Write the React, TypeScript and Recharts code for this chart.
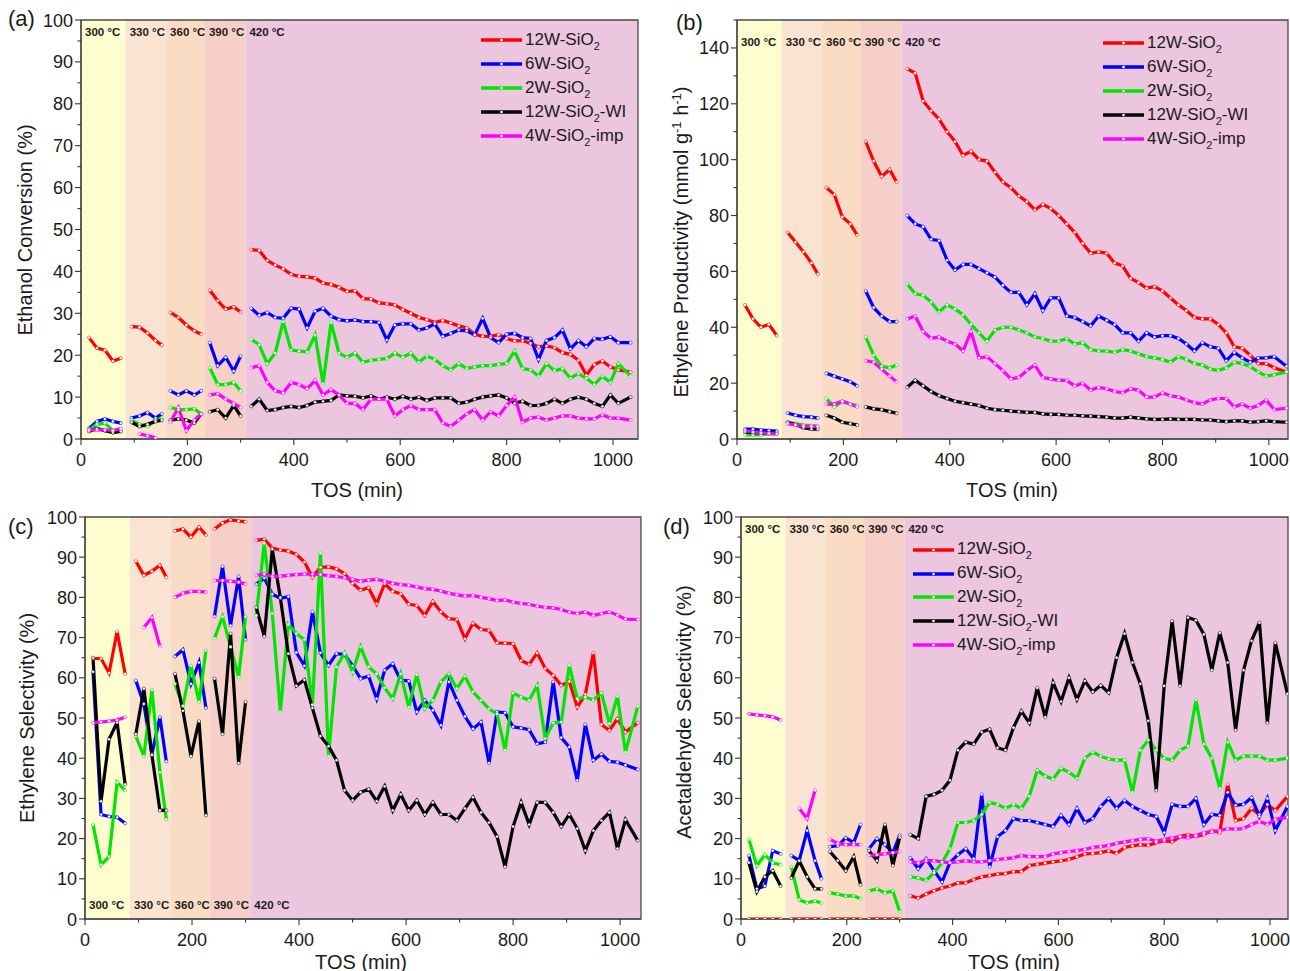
import React from 'react';
import { LineChart, Line, XAxis, YAxis, ReferenceArea } from 'recharts';

const FONT = '"Liberation Sans", Arial, Helvetica, sans-serif';

// TOS sampling times (min) for the five temperature steps
const tos300 = [15, 30, 45, 60, 75];
const tos330 = [95, 110, 125, 140, 152];
const tos360 = [168, 183, 198, 213, 226];
const tos390 = [242, 257, 272, 287, 300];
const tos420 = [320, 335, 350, 365, 380, 395, 410, 425, 440, 455, 470, 485, 500, 515, 530, 545, 560, 575, 590, 605, 620, 635, 650, 665, 680, 695, 710, 725, 740, 755, 770, 785, 800, 815, 830, 845, 860, 875, 890, 905, 920, 935, 950, 965, 980, 995, 1010, 1033];
const segmentTimes = [tos300, tos330, tos360, tos390, tos420];

const bandStarts = [0, 84, 160, 233, 309];
const bandLabels = ['300 °C', '330 °C', '360 °C', '390 °C', '420 °C'];
const bandColors = ['#fdfdcf', '#fbe3d1', '#f9dcc3', '#f6d0c8', '#ecc5de'];

const seriesNames = ['12W-SiO2', '6W-SiO2', '2W-SiO2', '12W-SiO2-WI', '4W-SiO2-imp'];
const legendTail = ['', '', '', '-WI', '-imp'];
const legendHead = ['12W-SiO', '6W-SiO', '2W-SiO', '12W-SiO', '4W-SiO'];
const seriesColors = ['#ff0000', '#0000ff', '#00e600', '#000000', '#ff00ff'];

const xTickValues = [0, 100, 200, 300, 400, 500, 600, 700, 800, 900, 1000];
const pctTicks = [0, 5, 10, 15, 20, 25, 30, 35, 40, 45, 50, 55, 60, 65, 70, 75, 80, 85, 90, 95, 100];
const prodTicks = [0, 10, 20, 30, 40, 50, 60, 70, 80, 90, 100, 110, 120, 130, 140, 150];

type Seg = (number | null)[];

// (a) Ethanol conversion (%)
const convRed: Seg[] = [
  [24.2, 21.7, 21.2, 18.6, 19.3],
  [26.8, 26.7, 25.3, 23.5, 22.4],
  [30.2, 29.0, 27.2, 25.8, 25.0],
  [35.5, 33.0, 31.0, 31.5, 30.3],
  [45.2, 45.0, 42.6, 41.5, 40.6, 39.3, 38.8, 38.7, 38.4, 37.2, 36.9, 36.2, 35.2, 35.4, 33.5, 33.4, 32.5, 32.3, 32.0, 30.9, 30.0, 29.0, 28.5, 27.8, 28.3, 27.7, 27.0, 26.5, 25.0, 24.5, 24.5, 24.9, 24.0, 23.4, 23.5, 22.8, 22.0, 22.2, 21.8, 20.6, 20.2, 18.8, 15.2, 17.8, 18.6, 17.2, 16.5, 16.0],
];
const convBlue: Seg[] = [
  [2.5, 4.2, 4.8, 4.2, 3.8],
  [5.0, 5.5, 6.3, 5.0, 6.0],
  [11.5, 10.5, 11.5, 10.5, 11.5],
  [23.0, 17.5, 19.5, 16.2, 19.8],
  [31.2, 29.5, 30.2, 29.0, 28.8, 31.2, 31.0, 26.5, 30.5, 31.2, 29.3, 28.5, 28.2, 28.4, 28.0, 28.0, 27.8, 23.6, 27.2, 27.5, 27.5, 26.0, 26.5, 27.5, 24.5, 25.2, 26.0, 25.8, 24.8, 28.8, 24.2, 23.0, 25.0, 25.2, 24.2, 24.0, 19.0, 23.5, 24.2, 26.0, 21.5, 23.5, 22.0, 24.0, 23.8, 24.4, 23.0, 23.0],
];
const convGreen: Seg[] = [
  [2.2, 3.5, 3.8, 2.0, 2.0],
  [4.5, 3.5, 3.0, 4.5, 5.0],
  [7.5, 7.0, 7.0, 7.2, 6.0],
  [17.0, 13.0, 13.0, 13.5, 11.5],
  [23.8, 22.5, 18.0, 20.5, 28.0, 21.2, 21.0, 20.8, 24.8, 13.2, 27.8, 20.5, 19.5, 20.5, 18.3, 18.8, 19.0, 19.2, 20.5, 19.5, 20.5, 18.3, 19.8, 19.0, 17.5, 16.5, 18.0, 16.8, 17.2, 17.5, 17.5, 17.8, 18.0, 21.0, 16.8, 16.5, 15.0, 18.0, 16.3, 16.8, 14.5, 15.6, 14.5, 13.0, 15.0, 13.5, 18.0, 15.0],
];
const convBlack: Seg[] = [
  [1.8, 2.5, 2.0, 1.5, 1.8],
  [4.0, 3.0, 3.5, 4.2, 4.5],
  [4.5, 4.8, 4.5, 3.8, 6.0],
  [6.5, 7.0, 5.0, 8.0, 5.5],
  [7.8, 9.5, 6.8, 7.0, 7.5, 7.8, 7.5, 8.0, 8.8, 9.0, 9.2, 10.5, 10.3, 10.2, 9.8, 10.3, 9.5, 10.0, 9.5, 10.2, 9.5, 10.0, 9.2, 9.8, 9.8, 9.8, 8.5, 8.8, 9.5, 10.0, 10.3, 10.5, 9.8, 8.5, 9.0, 8.0, 8.0, 8.5, 9.5, 8.5, 9.5, 10.0, 9.5, 8.5, 7.8, 10.5, 8.5, 10.0],
];
const convPink: Seg[] = [
  [2.2, 2.2, 2.2, 2.0, 2.5],
  [null, 1.2, 0.8, 0.3, null],
  [4.0, 7.5, 2.0, 4.5, 6.0],
  [10.5, 10.8, 9.5, 8.5, 7.5],
  [17.0, 17.5, 13.5, 11.5, 11.0, 13.5, 13.0, 12.0, 14.0, 10.5, 11.8, 10.5, 8.5, 8.5, 7.0, 9.5, 9.5, 9.5, 5.5, 7.0, 8.0, 7.0, 7.0, 7.0, 3.8, 3.0, 4.5, 6.0, 7.0, 4.5, 6.5, 5.5, 8.0, 10.0, 4.0, 5.0, 5.2, 4.5, 5.0, 5.5, 5.5, 5.0, 4.8, 4.8, 5.8, 5.0, 5.0, 4.5],
];

// (b) Ethylene productivity (mmol g-1 h-1)
const prodRed: Seg[] = [
  [48, 43, 40, 41, 37],
  [74, 70.5, 67, 63, 59],
  [90, 87.5, 79.5, 77, 73],
  [106.5, 99.5, 94, 96.5, 92],
  [132.5, 131, 121, 117.5, 114.5, 110, 106.5, 101.5, 103, 100, 99.5, 95.5, 92, 90, 87, 85, 82, 84, 82.5, 80, 77, 74, 70, 66.5, 67, 66.5, 63, 62, 57.5, 56, 54, 54.5, 53, 50.5, 48, 46, 43.5, 43, 43, 41, 38, 33, 32.5, 30, 27, 27, 25.5, 24],
];
const prodBlue: Seg[] = [
  [3.5, 3.5, 3.2, 3.0, 2.8],
  [9.3, 8.5, 8.0, 7.8, 7.5],
  [23.5, 22.5, 21.5, 20.5, 19],
  [53, 47, 44, 42, 42],
  [80, 77, 76, 71.5, 71, 64, 60.5, 62.5, 62.5, 61, 59.5, 58, 55, 52.5, 52.5, 48, 52, 46, 50.5, 50.5, 44, 43.5, 42, 40.5, 44, 42.5, 41, 38, 38, 35, 38, 36.5, 37, 37, 36, 34, 31.5, 34.5, 33, 32.5, 28, 31, 29, 27.5, 29, 29, 29.5, 26],
];
const prodGreen: Seg[] = [
  [1.5, 1.5, 1.5, 1.8, 1.8],
  [6.0, 5.5, 5.0, 4.8, 4.5],
  [14.5, 11.5, 13.5, 12.5, 12],
  [36.5, 30, 26, 25.5, 26.5],
  [55.5, 52, 51.5, 49, 45.5, 48, 46.5, 44.5, 41, 38, 35, 39, 40, 40, 39, 38, 36.5, 36, 35, 35, 36, 34, 34.5, 32, 31.5, 31.5, 31, 32, 31.5, 30.5, 29.5, 29, 28.5, 27.5, 29.5, 28.5, 27, 26.5, 25, 24.5, 25.5, 27.5, 27, 26, 24, 22.5, 23, 24],
];
const prodBlack: Seg[] = [
  [2.5, 2.3, 2.2, 2.0, 2.0],
  [6.0, 5.2, 4.0, 3.5, 3.5],
  [8.5, 7.5, 6.0, 5.5, 5.0],
  [11.5, 10.8, 10.5, 9.8, 9.2],
  [18.5, 21, 19, 17, 15.5, 14.5, 13.5, 13, 12.5, 12, 11, 10.5, 10.3, 10, 9.8, 9.5, 9.5, 9, 8.8, 8.8, 8.5, 8.5, 8.3, 8.2, 8, 7.8, 7.5, 7.5, 7.8, 7.5, 7.2, 7, 7, 7.2, 7, 7, 7, 6.8, 6.8, 6.5, 6.2, 6.5, 6.5, 6.0, 6.2, 6.5, 6.2, 6.0],
];
const prodPink: Seg[] = [
  [3.0, 2.5, 2.2, 2.0, 1.8],
  [5.5, 5.0, 4.5, 4.5, 4.5],
  [12.5, 12.5, 13.5, 12.5, 11.5],
  [28, 27.5, 25, 22.5, 20.5],
  [43, 44, 38.5, 36, 36.5, 35, 34, 31.5, 38.5, 29, 29.5, 27, 24.5, 21.5, 22, 24.5, 26.5, 22, 21.5, 21, 21, 19, 20, 17.5, 18.5, 18, 17, 16.5, 18, 17.5, 15, 15, 16.5, 15.5, 15, 14, 13, 12.5, 14, 14.5, 14.5, 11.5, 12.5, 11, 12, 14, 10.5, 11],
];

// (c) Ethylene selectivity (%)
const selRed: Seg[] = [
  [64.8, 64.8, 61.2, 71.5, 61.0],
  [89, 85.5, 86.5, 88, 85],
  [96.5, 97, 95, 97.5, 95.5],
  [97, 98.5, 99.3, 99, 98.8],
  [94.2, 94.5, 92.3, 91.8, 91.5, 90.7, 88.8, 85.0, 87.5, 87.6, 87.1, 85.9, 83.5, 81.8, 82.4, 78.4, 83.4, 81.5, 80.9, 78.3, 78.0, 75.5, 79.0, 76.4, 74.7, 74.5, 69.7, 73.6, 72.0, 71.8, 68.7, 68.6, 68.5, 64.3, 63.3, 66.2, 62.3, 60.6, 58.1, 59.1, 52.7, 55.9, 66.2, 48.4, 46.9, 49.8, 46.5, 48.8],
];
const selBlue: Seg[] = [
  [61.5, 26.0, 25.5, 25.3, 23.8],
  [59.3, 53.5, 41, 50.2, 39.2],
  [65.3, 67.0, 58.5, 63.8, 52.5],
  [75.3, 87.7, 73.0, 85.2, 69.5],
  [83.3, 84.8, 80.8, 79.8, 80.2, 66.3, 63.0, 76.4, 66.2, 63.1, 66.0, 65.8, 63.0, 59.8, 60.4, 54.8, 61.9, 63.5, 59.4, 59.2, 51.5, 54.4, 51.9, 48.2, 59.0, 54.4, 50.4, 47.3, 49.0, 38.8, 51.5, 51.3, 47.8, 47.5, 47.1, 43.6, 44.0, 59.0, 45.1, 42.8, 34.5, 48.4, 39.5, 41.0, 39.2, 39.0, 38.3, 37.2],
];
const selGreen: Seg[] = [
  [23.5, 13.5, 15.5, 34.0, 32.0],
  [45.5, 40.5, 57.0, 36.5, 24.8],
  [58.5, 53.0, 63.0, 54.0, 66.8],
  [69.8, 75.2, 67.7, 60.2, 75.2],
  [75.5, 93.5, 76.0, 51.5, 73.3, 71.0, 69.5, 53.3, 91.0, 40.5, 62.7, 66.2, 61.4, 67.7, 62.7, 61.0, 57.5, 54.8, 61.0, 52.7, 60.8, 52.3, 54.4, 59.0, 61.0, 57.3, 60.4, 56.5, 54.4, 52.3, 51.0, 42.0, 56.2, 55.2, 54.4, 58.1, 44.9, 48.8, 49.0, 63.1, 54.8, 55.2, 54.5, 56.2, 48.6, 55.4, 41.5, 52.9],
];
const selBlack: Seg[] = [
  [65.0, 29.3, 44.7, 48.9, 33.5],
  [46.0, 57.3, 40.8, 27.0, 27.0],
  [61.0, 51.8, 40.5, 49.2, 25.8],
  [59.8, 46.0, 71.0, 38.8, 54.0],
  [77.5, 70.3, 92.0, 80.0, 66.0, 58.0, 59.5, 52.5, 45.5, 43.0, 39.5, 32.0, 29.5, 31.5, 32.3, 29.3, 33.0, 27.0, 31.0, 27.0, 29.5, 26.0, 29.0, 26.0, 26.0, 24.5, 27.5, 30.3, 26.5, 24.0, 20.5, 13.0, 23.0, 29.0, 23.5, 29.0, 29.0, 26.5, 23.0, 26.0, 22.5, 17.0, 22.0, 24.5, 26.5, 17.5, 24.7, 19.5],
];
const selPink: Seg[] = [
  [48.8, 49.0, 49.2, 49.5, 50.2],
  [null, 72.5, 75.0, 67.8, null],
  [80.0, 81.0, 81.5, 81.5, 81.3],
  [84.2, 84.2, 84.0, 83.8, 83.3],
  [85.5, 85.8, 85.2, 85.3, 85.5, 85.7, 85.8, 85.8, 85.7, 85.4, 85.2, 84.9, 84.5, 84.0, 84.3, 84.5, 84.0, 83.5, 83.2, 83.0, 82.6, 82.2, 82.0, 81.6, 81.0, 80.7, 80.3, 80.5, 80.0, 79.7, 79.2, 79.4, 78.8, 78.5, 78.3, 77.8, 77.5, 77.4, 77.0, 76.3, 76.0, 76.4, 75.5, 76.0, 76.4, 75.6, 74.6, 74.5],
];

// (d) Acetaldehyde selectivity (%)
const acetRed: Seg[] = [
  [0, 0, 0, 0, 0],
  [0, 0, 0, 0, 0],
  [0, 0, 0, 0, 0],
  [0, 0, 0, 0, 0],
  [5.8, 5.2, 6.2, 7.0, 7.7, 8.2, 9.0, 9.0, 9.8, 10.5, 10.8, 11.2, 11.3, 11.8, 11.8, 13.3, 13.6, 13.9, 14.2, 14.5, 14.8, 15.5, 16.2, 16.3, 16.5, 17.0, 16.3, 17.8, 18.2, 18.5, 18.3, 19.0, 19.5, 19.2, 20.5, 21.0, 20.5, 21.0, 22.0, 21.5, 33.5, 24.5, 25.0, 27.5, 26.0, 28.5, 27.0, 30.5],
];
const acetBlue: Seg[] = [
  [15.8, 7.5, 8.2, 17.0, 16.2],
  [15.8, 14.5, 22.0, 14.5, 10.0],
  [18.0, 18.2, 20.2, 19.0, 23.5],
  [17.5, 20.0, 18.5, 16.5, 20.8],
  [15.2, 12.5, 15.0, 12.0, 9.2, 14.0, 16.0, 17.5, 15.0, 31.0, 13.0, 20.5, 22.0, 25.0, 24.5, 24.5, 24.0, 23.5, 23.0, 25.8, 23.5, 27.5, 24.0, 25.0, 28.0, 30.0, 27.5, 29.5, 28.0, 27.0, 26.0, 25.5, 21.5, 28.5, 28.0, 28.0, 30.0, 23.5, 26.0, 25.8, 31.5, 28.3, 28.5, 30.2, 25.5, 30.0, 22.0, 28.0],
];
const acetGreen: Seg[] = [
  [19.8, 13.2, 16.0, 14.0, 13.5],
  [13.0, 4.8, 4.0, 4.5, 4.0],
  [6.5, 6.2, 5.7, 5.8, 5.0],
  [7.0, 7.5, 6.5, 7.0, 1.8],
  [10.5, 10.2, 9.6, 11.5, 14.0, 17.5, 24.0, 24.0, 24.5, 26.0, 29.0, 28.5, 27.5, 28.5, 27.5, 30.5, 37.0, 35.5, 34.8, 37.5, 36.5, 35.0, 40.0, 41.5, 40.5, 39.8, 39.5, 39.5, 31.5, 42.0, 44.5, 42.0, 40.0, 39.5, 42.0, 43.0, 54.5, 43.5, 40.0, 32.5, 44.0, 39.5, 40.5, 40.5, 40.5, 39.5, 39.5, 40.0],
];
const acetBlack: Seg[] = [
  [14.0, 6.8, 10.5, 12.0, 8.2],
  [10.2, 14.5, 10.5, 7.5, 7.5],
  [16.8, 14.5, 12.0, 15.5, 8.5],
  [17.0, 14.5, 23.5, 13.3, 20.3],
  [21.0, 20.0, 30.5, 31.0, 32.0, 34.5, 42.0, 44.0, 43.5, 46.5, 47.2, 42.6, 42.0, 47.6, 51.7, 48.8, 57.5, 50.2, 58.8, 54.1, 60.0, 54.6, 59.2, 56.5, 58.1, 56.3, 65.0, 71.0, 63.8, 58.5, 49.3, 32.0, 58.0, 74.1, 58.0, 75.0, 74.3, 70.8, 61.9, 71.2, 63.8, 47.0, 61.9, 69.2, 73.7, 48.8, 68.7, 56.0],
];
const acetPink: Seg[] = [
  [51.0, 50.8, 50.6, 50.3, 49.5],
  [null, 27.5, 25.0, 32.0, null],
  [19.8, 18.8, 18.5, 18.5, 18.5],
  [15.8, 16.0, 16.2, 16.5, 16.8],
  [14.2, 14.0, 14.5, 14.5, 14.2, 14.0, 14.2, 14.5, 14.2, 14.2, 14.5, 14.8, 15.0, 15.2, 15.8, 15.5, 15.5, 15.5, 16.2, 16.5, 16.8, 17.0, 17.3, 17.8, 18.0, 18.3, 18.8, 19.2, 19.5, 19.8, 20.0, 19.3, 19.8, 20.2, 20.5, 20.2, 20.8, 21.5, 21.6, 22.0, 22.5, 22.3, 22.5, 23.5, 24.3, 23.5, 24.8, 25.3],
];

// rows for recharts; an empty row between steps breaks the lines
function buildRows(series: Seg[][]) {
  const rows: Record<string, number | null>[] = [];
  segmentTimes.forEach((times, s) => {
    if (s > 0) {
      const prev = segmentTimes[s - 1];
      const gap: Record<string, number | null> = { tos: (prev[prev.length - 1] + times[0]) / 2 };
      series.forEach((_, k) => (gap['s' + k] = null));
      rows.push(gap);
    }
    times.forEach((t, i) => {
      const row: Record<string, number | null> = { tos: t };
      series.forEach((ser, k) => {
        const v = ser[s][i];
        row['s' + k] = v == null ? null : v;
      });
      rows.push(row);
    });
  });
  return rows;
}

const XTick = (props: any) => {
  const { x, y, payload } = props;
  const major = payload.value % 200 === 0;
  return (
    <g>
      <line x1={x} x2={x} y1={y} y2={y + (major ? 6 : 3.5)} stroke="#333" strokeWidth={1.1} />
      {major && (
        <text x={x} y={y + 27} textAnchor="middle" fontSize={18} fill="#1a1a1a" fontFamily={FONT}>
          {payload.value}
        </text>
      )}
    </g>
  );
};

const makeYTick = (majorStep: number) => (props: any) => {
  const { x, y, payload } = props;
  const major = payload.value % majorStep === 0;
  return (
    <g>
      <line x1={x - (major ? 6 : 3.5)} x2={x} y1={y} y2={y} stroke="#333" strokeWidth={1.1} />
      {major && (
        <text x={x - 8} y={y + 6.5} textAnchor="end" fontSize={18} fill="#1a1a1a" fontFamily={FONT}>
          {payload.value}
        </text>
      )}
    </g>
  );
};

type PanelDef = {
  left: number; top: number; width: number; height: number;
  plotLeft: number; plotTop: number; plotRight: number; plotBottom: number;
  xMax: number; yMax: number; yTicks: number[]; yMajor: number;
  series: Seg[][]; labelAtBottom: boolean; labelDy: number;
};

const Panel = ({ p }: { p: PanelDef }) => {
  const rows = buildRows(p.series);
  const xAxisH = 30;
  const margin = {
    top: p.plotTop - p.top,
    left: 0,
    right: p.left + p.width - p.plotRight,
    bottom: p.top + p.height - p.plotBottom - xAxisH,
  };
  const bandLabel = (text: string) => (lp: any) => {
    const vb = lp.viewBox;
    if (!vb) return null;
    const y = p.labelAtBottom ? vb.y + vb.height - p.labelDy : vb.y + p.labelDy;
    return (
      <text x={vb.x + 4} y={y} fontSize={11.5} fontWeight={700} fill="#1a1a1a" fontFamily={FONT}>
        {text}
      </text>
    );
  };
  return (
    <div style={{ position: 'absolute', left: p.left, top: p.top }}>
      <LineChart width={p.width} height={p.height} data={rows} margin={margin}>
        <XAxis
          dataKey="tos" type="number" domain={[0, p.xMax]} ticks={xTickValues} interval={0}
          allowDataOverflow height={xAxisH} tickSize={0} tickMargin={0} tickLine={false}
          axisLine={{ stroke: '#444', strokeWidth: 1.2 }} tick={XTick}
        />
        <YAxis
          type="number" domain={[0, p.yMax]} ticks={p.yTicks} interval={0} allowDataOverflow
          width={p.plotLeft - p.left} tickSize={0} tickMargin={0} tickLine={false}
          axisLine={{ stroke: '#444', strokeWidth: 1.2 }} tick={makeYTick(p.yMajor)}
        />
        {bandStarts.map((x0, i) => (
          <ReferenceArea
            key={'band' + i} x1={x0} x2={i < bandStarts.length - 1 ? bandStarts[i + 1] : p.xMax}
            y1={0} y2={p.yMax} fill={bandColors[i]} fillOpacity={1} stroke="none"
            label={bandLabel(bandLabels[i])}
          />
        ))}
        {p.series.map((_, k) => (
          <Line
            key={'s' + k} dataKey={'s' + k} name={seriesNames[k]} type="linear"
            stroke={seriesColors[k]} strokeWidth={3.2} connectNulls={false}
            dot={{ r: 1.6, fill: '#ffffff', stroke: seriesColors[k], strokeWidth: 0.5 }}
            activeDot={false} isAnimationActive={false}
          />
        ))}
        <ReferenceArea x1={0} x2={p.xMax} y1={0} y2={p.yMax} fill="none" stroke="#4a4a4a" strokeWidth={1.3} />
      </LineChart>
    </div>
  );
};

const panels: PanelDef[] = [
  {
    left: 0, top: 0, width: 645, height: 470, plotLeft: 81, plotTop: 20, plotRight: 638, plotBottom: 439,
    xMax: 1047, yMax: 100, yTicks: pctTicks, yMajor: 10,
    series: [convRed, convBlue, convGreen, convBlack, convPink], labelAtBottom: false, labelDy: 16,
  },
  {
    left: 656, top: 0, width: 634, height: 470, plotLeft: 737, plotTop: 20, plotRight: 1288, plotBottom: 439,
    xMax: 1036, yMax: 150, yTicks: prodTicks, yMajor: 20,
    series: [prodRed, prodBlue, prodGreen, prodBlack, prodPink], labelAtBottom: false, labelDy: 26,
  },
  {
    left: 0, top: 497, width: 650, height: 470, plotLeft: 85, plotTop: 517, plotRight: 641, plotBottom: 919,
    xMax: 1039, yMax: 100, yTicks: pctTicks, yMajor: 10,
    series: [selRed, selBlue, selGreen, selBlack, selPink], labelAtBottom: true, labelDy: 10,
  },
  {
    left: 660, top: 497, width: 630, height: 470, plotLeft: 741, plotTop: 517, plotRight: 1288, plotBottom: 919,
    xMax: 1034, yMax: 100, yTicks: pctTicks, yMajor: 10,
    series: [acetRed, acetBlue, acetGreen, acetBlack, acetPink], labelAtBottom: false, labelDy: 16,
  },
];

const LegendBox = ({ left, top, step }: { left: number; top: number; step: number }) => (
  <div style={{ position: 'absolute', left, top, fontFamily: FONT, fontSize: 17, color: '#1a1a1a' }}>
    {seriesNames.map((name, k) => (
      <div key={name} style={{ display: 'flex', alignItems: 'center', height: step, whiteSpace: 'nowrap' }}>
        <svg width={42} height={10} style={{ display: 'block' }}>
          <line x1={0} y1={5} x2={41} y2={5} stroke={seriesColors[k]} strokeWidth={3.6} />
          <circle cx={20.5} cy={5} r={1.3} fill="#fff" />
        </svg>
        <span style={{ marginLeft: 2, lineHeight: '17px' }}>
          {legendHead[k]}
          <span style={{ fontSize: 11, position: 'relative', top: 5 }}>2</span>
          {legendTail[k]}
        </span>
      </div>
    ))}
  </div>
);

const abs = (left: number, top: number, extra: React.CSSProperties = {}): React.CSSProperties => ({
  position: 'absolute', left, top, fontFamily: FONT, color: '#1a1a1a', whiteSpace: 'nowrap', ...extra,
});

const YTitle = ({ cx, cy, children }: { cx: number; cy: number; children: React.ReactNode }) => (
  <div style={abs(cx, cy, { fontSize: 20, transform: 'translate(-50%, -50%) rotate(-90deg)' })}>{children}</div>
);
const XTitle = ({ cx, cy }: { cx: number; cy: number }) => (
  <div style={abs(cx, cy, { fontSize: 20, transform: 'translate(-50%, -50%)' })}>TOS (min)</div>
);

export default function App() {
  return (
    <div style={{ position: 'absolute', left: 0, top: 0, width: 1290, height: 971, background: '#fff', overflow: 'hidden' }}>
      {panels.map((p, i) => (
        <Panel key={i} p={p} />
      ))}
      <div style={abs(8, 6, { fontSize: 22 })}>(a)</div>
      <div style={abs(676, 10, { fontSize: 22 })}>(b)</div>
      <div style={abs(8, 514, { fontSize: 22 })}>(c)</div>
      <div style={abs(663, 514, { fontSize: 22 })}>(d)</div>

      <YTitle cx={25} cy={230}>Ethanol Conversion (%)</YTitle>
      <YTitle cx={681} cy={242}>
        Ethylene Productivity (mmol g<sup style={{ fontSize: 13 }}>-1</sup> h<sup style={{ fontSize: 13 }}>-1</sup>)
      </YTitle>
      <YTitle cx={27} cy={718}>Ethylene Selectivity (%)</YTitle>
      <YTitle cx={684} cy={712}>Acetaldehyde Selectivity (%)</YTitle>

      <XTitle cx={357} cy={490} />
      <XTitle cx={1012} cy={490} />
      <XTitle cx={361} cy={962} />
      <XTitle cx={1014} cy={962} />

      <LegendBox left={481} top={28} step={24} />
      <LegendBox left={1103} top={31} step={24} />
      <LegendBox left={913} top={538} step={23.8} />
    </div>
  );
}
